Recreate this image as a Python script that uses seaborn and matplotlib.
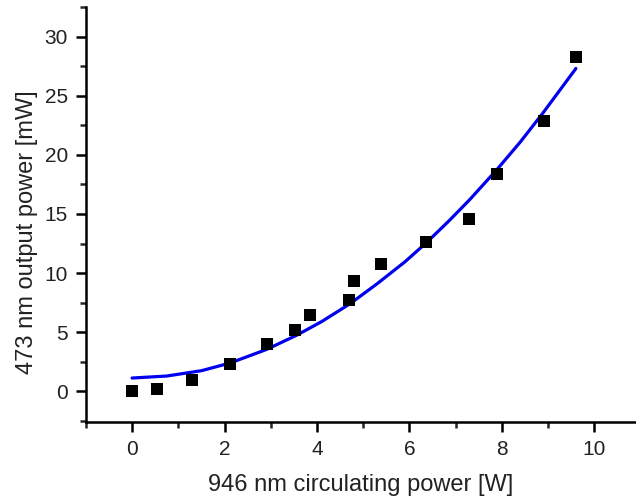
import numpy as np
import matplotlib
matplotlib.use('Agg')
from matplotlib import pyplot as plt
from matplotlib.ticker import MultipleLocator
import pandas as pd
import seaborn as sns

# measured points
power_946 = [0.0, 0.53, 1.30, 2.12, 2.91, 3.53, 3.84, 4.69, 4.79, 5.38,
             6.35, 7.29, 7.90, 8.91, 9.61]
power_473 = [0.0, 0.2, 1.0, 2.35, 4.0, 5.2, 6.5, 7.7, 9.3, 10.8,
             12.6, 14.6, 18.4, 22.9, 28.3]

# fit curve
fit_x = [0, 0.75, 1.5, 2.12, 2.91, 3.56, 4.1, 4.71, 5.3, 5.9, 6.36, 6.85,
         7.3, 7.88, 8.4, 8.88, 9.6]
fit_y = [1.13, 1.3, 1.75, 2.4, 3.55, 4.75, 5.9, 7.4, 9.1, 10.95, 12.55, 14.4,
         16.2, 18.7, 21.1, 23.5, 27.3]

pts = pd.DataFrame({'x': power_946, 'y': power_473})
fit = pd.DataFrame({'x': fit_x, 'y': fit_y})

sns.set_style('ticks')
plt.rcParams['font.family'] = ['Liberation Sans', 'DejaVu Sans']

fig = plt.figure(figsize=(6.36, 4.99), dpi=100)
ax = fig.add_axes([0.135, 0.154, 0.865, 0.832])

sns.lineplot(data=fit, x='x', y='y', ax=ax, color='#0000ee', linewidth=2.3,
             sort=False, estimator=None)
sns.scatterplot(data=pts, x='x', y='y', ax=ax, marker='s', s=85,
                color='black', edgecolor='black', linewidth=0, zorder=3)

ax.set_xlim(-1, 10.9)
ax.set_ylim(-2.6, 32.5)
ax.xaxis.set_major_locator(MultipleLocator(2))
ax.xaxis.set_minor_locator(MultipleLocator(1))
ax.yaxis.set_major_locator(MultipleLocator(5))
ax.yaxis.set_minor_locator(MultipleLocator(2.5))

for s in ['top', 'right']:
    ax.spines[s].set_visible(False)
for s in ['left', 'bottom']:
    ax.spines[s].set_linewidth(1.8)
    ax.spines[s].set_color('black')

ax.tick_params(which='major', direction='out', length=7, width=1.8,
               labelsize=15, colors='black', pad=6, labelcolor='#222222')
ax.tick_params(which='minor', direction='out', length=4, width=1.8)

ax.set_xlabel('946 nm circulating power [W]', fontsize=17, labelpad=11,
              color='#222222')
ax.set_ylabel('473 nm output power [mW]', fontsize=17, color='#222222')
ax.yaxis.set_label_coords(-0.087, 0.458)

plt.savefig('out.png', dpi=100)
plt.close()
